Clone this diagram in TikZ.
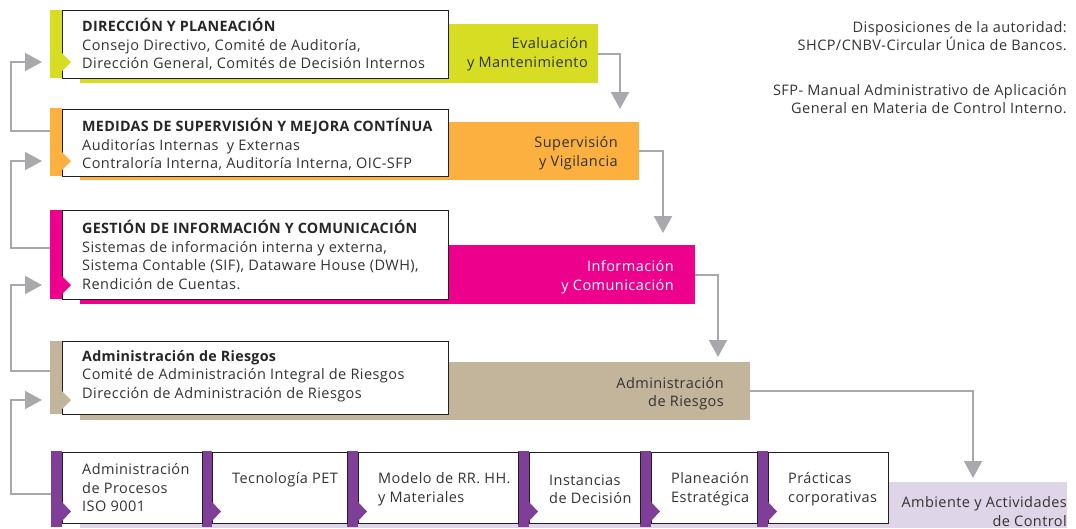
\documentclass[tikz,border=0pt]{standalone}
\usepackage{fontspec}
\setmainfont{Open Sans}[LetterSpace=3]
\newfontfamily\hfont{Open Sans}[LetterSpace=2]
\usetikzlibrary{arrows.meta}
\definecolor{cgreen}{HTML}{D6DD22}
\definecolor{corange}{HTML}{FBB040}
\definecolor{cmagenta}{HTML}{EC008C}
\definecolor{ctan}{HTML}{C2B59B}
\definecolor{cpurple}{HTML}{7F3F98}
\definecolor{clav}{HTML}{DFD5E9}
\definecolor{connc}{HTML}{A7A9AC}
\definecolor{boxline}{HTML}{231F20}
\definecolor{txtc}{HTML}{333333}
\newcommand\hd[1]{{\hfont\bfseries\fontsize{14.3}{18.5}\selectfont\color{black!85}#1}}
\begin{document}
\begin{tikzpicture}[x=1pt,y=-1pt,
  rect/.style={draw=none, inner sep=0pt, outer sep=0pt, anchor=north west},
  wbox/.style={fill=white, draw=boxline, line width=0.8pt, inner sep=0pt, outer sep=0pt, anchor=north west},
  conn/.style={draw=connc, line width=2pt, -{Triangle[length=17pt,width=18pt]}},
  txt/.style={inner sep=0pt, align=left, text=txtc, font=\fontsize{14.5}{18.5}\selectfont},
  rtxt/.style={inner sep=0pt, align=right, text=txtc, font=\fontsize{14.5}{18.5}\selectfont, anchor=east},
]
\useasboundingbox (0,0) rectangle (1076,528);

% ---------- bands ----------
\node[rect, fill=cgreen,   minimum width=518pt, minimum height=59pt] (band1) at (80,24) {};
\node[rect, fill=corange,  minimum width=559pt, minimum height=58pt] (band2) at (80,122) {};
\node[rect, fill=cmagenta, minimum width=615pt, minimum height=59pt] (band3) at (80,245) {};
\node[rect, fill=ctan,     minimum width=670pt, minimum height=58pt] (band4) at (80,362) {};
\node[rect, fill=clav,     minimum width=987pt, minimum height=46pt] (band5) at (80,482) {};

% ---------- left bars ----------
\node[rect, fill=cgreen,   minimum width=12pt, minimum height=68pt] (bar1) at (50,10) {};
\node[rect, fill=corange,  minimum width=12pt, minimum height=68pt] (bar2) at (50,108) {};
\node[rect, fill=cmagenta, minimum width=12pt, minimum height=89pt] (bar3) at (50,210) {};
\node[rect, fill=ctan,     minimum width=12pt, minimum height=73pt] (bar4) at (50,341) {};

% ---------- white boxes ----------
\node[wbox, minimum width=386pt, minimum height=68pt] (box1) at (62,10) {};
\node[wbox, minimum width=386pt, minimum height=67pt] (box2) at (62,109) {};
\node[wbox, minimum width=386pt, minimum height=89pt] (box3) at (62,210) {};
\node[wbox, minimum width=386pt, minimum height=73pt] (box4) at (62,341) {};

% notches
\fill[cgreen]   (62,53) -- (71,62) -- (62,71) -- cycle;
\fill[corange]  (62,152) -- (71,161) -- (62,170) -- cycle;
\fill[cmagenta] (62,276) -- (71,285) -- (62,294) -- cycle;
\fill[ctan]     (62,391) -- (71,400) -- (62,409) -- cycle;

% ---------- bottom row ----------
\node[rect, fill=cpurple, minimum width=11pt, minimum height=76pt] (pb1) at (51,451) {};
\node[rect, fill=cpurple, minimum width=10pt, minimum height=76pt] (pb2) at (202,451) {};
\node[rect, fill=cpurple, minimum width=11pt, minimum height=76pt] (pb3) at (347,451) {};
\node[rect, fill=cpurple, minimum width=11pt, minimum height=76pt] (pb4) at (518,451) {};
\node[rect, fill=cpurple, minimum width=11pt, minimum height=76pt] (pb5) at (640,451) {};
\node[rect, fill=cpurple, minimum width=11pt, minimum height=76pt] (pb6) at (757,451) {};

\node[wbox, minimum width=140pt, minimum height=71pt] (bb1) at (62,452) {};
\node[wbox, minimum width=135pt, minimum height=71pt] (bb2) at (212,452) {};
\node[wbox, minimum width=160pt, minimum height=71pt] (bb3) at (358,452) {};
\node[wbox, minimum width=111pt, minimum height=71pt] (bb4) at (529,452) {};
\node[wbox, minimum width=106pt, minimum height=71pt] (bb5) at (651,452) {};
\node[wbox, minimum width=120pt, minimum height=71pt] (bb6) at (768,452) {};

\foreach \x in {62,212,358,529,651,768}{
  \fill[cpurple] (\x,502) -- (\x+9,511.5) -- (\x,521) -- cycle;
}

% ---------- texts in boxes ----------
\node[txt, anchor=west] (t1) at (82,44.5) {\hd{DIRECCIÓN Y PLANEACIÓN}\\Consejo Directivo, Comité de Auditoría,\\Dirección General, Comités de Decisión Internos};
\node[txt, anchor=west] (t2) at (82,144.5) {\hd{MEDIDAS DE SUPERVISIÓN Y MEJORA CONTÍNUA}\\Auditorías Internas~ y Externas\\Contraloría Interna, Auditoría Interna, OIC-SFP};
\node[txt, anchor=west] (t3) at (82,255) {\hd{GESTIÓN DE INFORMACIÓN Y COMUNICACIÓN}\\Sistemas de información interna y externa,\\Sistema Contable (SIF), Dataware House (DWH),\\Rendición de Cuentas.};
\node[txt, anchor=west] (t4) at (82,376) {\hd{Administración de Riesgos}\\Comité de Administración Integral de Riesgos\\Dirección de Administración de Riesgos};

\node[txt, anchor=west] (u1) at (82,488) {Administración\\de Procesos\\ISO 9001};
\node[txt, anchor=west] (u2) at (232,480) {Tecnología PET};
\node[txt, anchor=west] (u3) at (378,489) {Modelo de RR. HH.\\y Materiales};
\node[txt, anchor=west] (u4) at (549,489) {Instancias\\de Decisión};
\node[txt, anchor=west] (u5) at (671,489) {Planeación\\Estratégica};
\node[txt, anchor=west] (u6) at (788,489) {Prácticas\\corporativas};

% ---------- band labels ----------
\node[rtxt] (l1) at (588,54) {Evaluación\\y Mantenimiento};
\node[rtxt] (l2) at (618,153) {Supervisión\\y Vigilancia};
\node[rtxt, text=white] (l3) at (674,277) {Información\\y Comunicación};
\node[rtxt] (l4) at (724,393.5) {Administración\\de Riesgos};
\node[rtxt] (l5) at (1067,511.5) {Ambiente y Actividades\\de Control};

% ---------- notes ----------
\node[rtxt] (n1) at (1067,36) {Disposiciones de la autoridad:\\SHCP/CNBV-Circular Única de Bancos.};
\node[rtxt] (n2) at (1067,99) {SFP- Manual Administrativo de Aplicación\\General en Materia de Control Interno.};

% ---------- connectors ----------
\coordinate (gx) at (11,0);
\coordinate (s2) at (50,131);
\coordinate (s3) at (50,248);
\coordinate (s4) at (50,371);
\coordinate (s5) at (51,494);
\coordinate (a1) at (42,62);
\coordinate (a2) at (42,161);
\coordinate (a3) at (42,285);
\coordinate (a4) at (42,400);
\draw[conn] (s2) -- (s2 -| gx) |- (a1);
\draw[conn] (s3) -- (s3 -| gx) |- (a2);
\draw[conn] (s4) -- (s4 -| gx) |- (a3);
\draw[conn] (s5) -- (s5 -| gx) |- (a4);

\coordinate (d1) at (620,109);
\coordinate (d2) at (663,233);
\coordinate (d3) at (718,357);
\coordinate (d4) at (973,478);
\draw[conn] (band1.east) -| (d1);
\draw[conn] (band2.east) -| (d2);
\draw[conn] (band3.east) -| (d3);
\draw[conn] (band4.east) -| (d4);
\end{tikzpicture}
\end{document}
